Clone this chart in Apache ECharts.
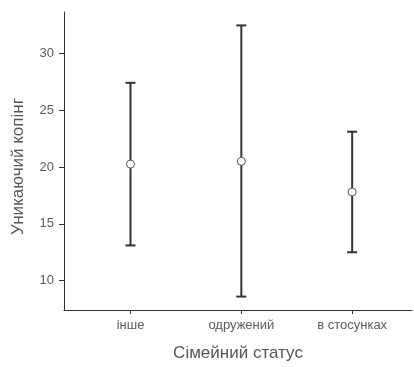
<!DOCTYPE html>
<html>
<head>
<meta charset="utf-8">
<script src="https://cdn.jsdelivr.net/npm/echarts@6/dist/echarts.min.js"></script>
<style>
  html, body { margin: 0; padding: 0; background: #fff; }
  #chart { width: 414px; height: 367px; }
</style>
</head>
<body>
<div id="chart"></div>
<script>
// Family status groups and the avoidance-coping summary per group
const categories = ['інше', 'одружений', 'в стосунках'];
const means = [20.25, 20.5, 17.8];
const lower = [13.1, 8.6, 12.5];
const upper = [27.4, 32.45, 23.1];
const yTicks = [10, 15, 20, 25, 30];

const positions = categories.map((_, i) => i + 1);
const barData = positions.map((x, i) => [x, lower[i], upper[i]]);
const pointData = positions.map((x, i) => [x, means[i]]);

const textFont = 'Liberation Sans, Arial, sans-serif';
const chart = echarts.init(document.getElementById('chart'), null, { renderer: 'canvas' });

chart.setOption({
  animation: false,
  backgroundColor: '#ffffff',
  grid: { left: 64, right: 2, top: 12, bottom: 55 },
  xAxis: {
    type: 'value',
    min: 0.4,
    max: 3.54,
    name: 'Сімейний статус',
    nameLocation: 'middle',
    nameGap: 35,
    nameTextStyle: { fontFamily: textFont, fontSize: 17, color: '#555' },
    axisLine: { show: true, lineStyle: { color: '#333', width: 1 } },
    axisTick: { show: true, customValues: positions, length: 4, lineStyle: { color: '#333' } },
    axisLabel: {
      customValues: positions,
      formatter: v => categories[Math.round(v) - 1] || '',
      fontFamily: textFont, fontSize: 13, color: '#5a5a5a', margin: 9
    },
    splitLine: { show: false }
  },
  yAxis: {
    type: 'value',
    min: 7.42,
    max: 33.63,
    name: 'Уникаючий копінг',
    nameLocation: 'middle',
    nameGap: 37,
    nameTextStyle: { fontFamily: textFont, fontSize: 17, color: '#555', padding: [0, 11, 0, 0] },
    axisLine: { show: true, lineStyle: { color: '#333', width: 1 } },
    axisTick: { show: true, customValues: yTicks, length: 5, lineStyle: { color: '#333' } },
    axisLabel: {
      customValues: yTicks,
      fontFamily: textFont, fontSize: 13, color: '#5a5a5a', margin: 10
    },
    splitLine: { show: false }
  },
  series: [
    {
      type: 'custom',
      data: barData,
      encode: { x: 0, y: [1, 2] },
      renderItem: (params, api) => {
        const x = api.value(0);
        const lo = api.coord([x, api.value(1)]);
        const hi = api.coord([x, api.value(2)]);
        const half = 5;
        const style = { stroke: '#333', lineWidth: 2 };
        return {
          type: 'group',
          children: [
            { type: 'line', shape: { x1: lo[0], y1: lo[1], x2: hi[0], y2: hi[1] }, style },
            { type: 'line', shape: { x1: hi[0] - half, y1: hi[1], x2: hi[0] + half, y2: hi[1] }, style },
            { type: 'line', shape: { x1: lo[0] - half, y1: lo[1], x2: lo[0] + half, y2: lo[1] }, style }
          ]
        };
      },
      z: 2
    },
    {
      type: 'scatter',
      data: pointData,
      symbol: 'circle',
      symbolSize: 8,
      itemStyle: { color: '#fff', borderColor: '#555', borderWidth: 1, opacity: 1 },
      z: 3
    }
  ]
});
</script>
</body>
</html>
